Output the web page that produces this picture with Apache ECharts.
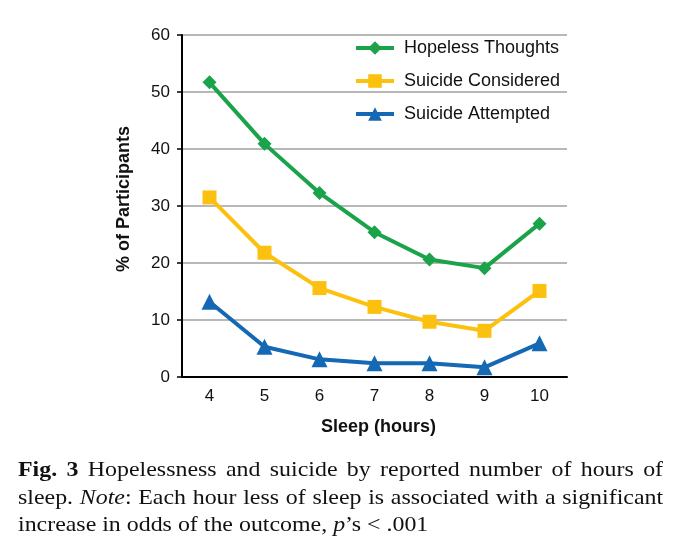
<!DOCTYPE html>
<html>
<head>
<meta charset="utf-8">
<script src="https://cdn.jsdelivr.net/npm/echarts@6/dist/echarts.min.js"></script>
<style>
  html, body { margin: 0; padding: 0; background: #fff; }
  #chart { position: absolute; left: 0; top: 0; width: 682px; height: 548px; }
  #caption { position: absolute; left: 18px; top: 455px; width: 594px; transform: scaleX(1.086); transform-origin: 0 0;
    font-family: "Liberation Serif", "DejaVu Serif", serif; font-size: 22px; line-height: 27.5px; color: #111; }
  #caption div { text-align: justify; text-align-last: justify; white-space: nowrap; }
  #caption div.last { text-align-last: left; }
</style>
</head>
<body>
<div id="chart"></div>
<div id="caption">
  <div><b>Fig. 3</b> Hopelessness and suicide by reported number of hours of</div>
  <div>sleep. <i>Note</i>: Each hour less of sleep is associated with a significant</div>
  <div class="last">increase in odds of the outcome, <i>p</i>’s &lt; .001</div>
</div>
<script>
const categories = ['4', '5', '6', '7', '8', '9', '10'];
const hopeless = [51.7, 40.9, 32.3, 25.4, 20.6, 19.1, 26.9];
const considered = [31.5, 21.8, 15.6, 12.3, 9.7, 8.1, 15.1];
const attempted = [13.2, 5.3, 3.1, 2.4, 2.4, 1.7, 5.9];
const seriesNames = ['Hopeless Thoughts', 'Suicide Considered', 'Suicide Attempted'];
const yTicks = [0, 10, 20, 30, 40, 50, 60];

const chart = echarts.init(document.getElementById('chart'));
const font = 'Liberation Sans, Arial, Helvetica, sans-serif';
function mk(name, data, color, symbol, size) {
  return {
    name, type: 'line', data, symbol, symbolSize: size,
    lineStyle: { color, width: 4 },
    itemStyle: { color },
    z: 3
  };
}
chart.setOption({
  animation: false,
  grid: { left: 182, top: 35, right: 115, bottom: 171 },
  legend: {
    orient: 'vertical', left: 354, top: 39, padding: 0,
    itemWidth: 38, itemHeight: 17, itemGap: 15,
    lineStyle: { width: 4 },
    textStyle: { fontFamily: font, fontSize: 18, color: '#111', padding: [0, 0, 0, 5] },
    data: seriesNames
  },
  xAxis: {
    type: 'category', data: categories, boundaryGap: true,
    name: 'Sleep (hours)', nameLocation: 'middle', nameGap: 41,
    nameTextStyle: { fontFamily: font, fontSize: 18, fontWeight: 'bold', color: '#111', padding: [0, 0, 0, 8] },
    axisLine: { lineStyle: { color: '#000', width: 2 } },
    axisTick: { show: false },
    axisLabel: { fontFamily: font, fontSize: 17, color: '#111', margin: 11 }
  },
  yAxis: {
    type: 'value', min: 0, max: 60, interval: 10,
    name: '% of Participants', nameLocation: 'middle', nameGap: 49,
    nameTextStyle: { fontFamily: font, fontSize: 18, fontWeight: 'bold', color: '#111', padding: [0, 0, 0, 14] },
    axisLine: { show: true, lineStyle: { color: '#000', width: 2 } },
    axisTick: { show: true, length: 5, lineStyle: { color: '#000', width: 1.5 } },
    axisLabel: { fontFamily: font, fontSize: 17, color: '#111', margin: 12,
      formatter: v => yTicks.includes(v) ? String(v) : '' },
    splitLine: { show: true, lineStyle: { color: '#a0a0a0', width: 1.5 } }
  },
  series: [
    mk(seriesNames[0], hopeless, '#1aa34a', 'diamond', 14),
    mk(seriesNames[1], considered, '#fcc10f', 'rect', 14),
    mk(seriesNames[2], attempted, '#1468b4', 'triangle', 16)
  ]
});
</script>
</body>
</html>
